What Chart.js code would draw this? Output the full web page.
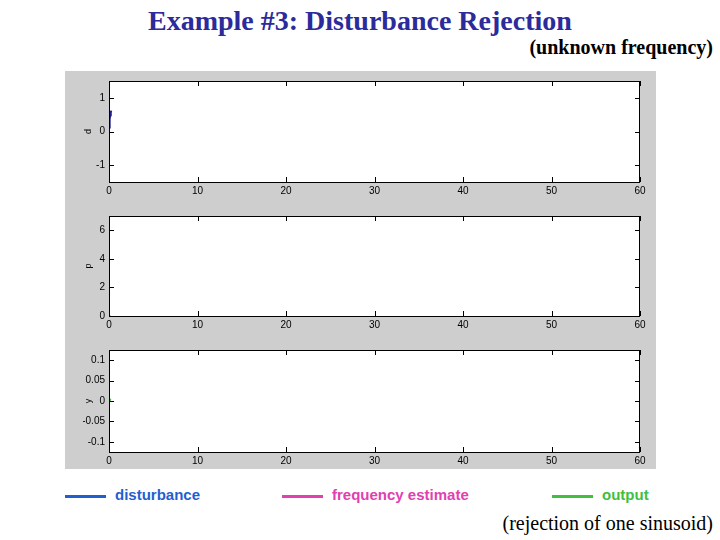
<!DOCTYPE html>
<html>
<head>
<meta charset="utf-8">
<script src="https://cdn.jsdelivr.net/npm/chart.js@4.4.1/dist/chart.umd.min.js"></script>
<style>
  body { margin: 0; width: 720px; height: 540px; background: #fff; position: relative; overflow: hidden; }
  .txt { position: absolute; white-space: nowrap; }
  #title { left: 148px; top: 5px; font: bold 28px "Liberation Serif", serif; color: #2b2b9b; }
  #sub { right: 7px; top: 36px; font: bold 20px "Liberation Serif", serif; color: #000; }
  #note { right: 7px; top: 512px; font: 20px "Liberation Serif", serif; color: #000; }
  #panel { position: absolute; left: 65px; top: 71px; width: 591px; height: 398px; background: #cecece; }
  canvas { position: absolute; left: 65px; }
  .leg { position: absolute; top: 486px; font: bold 15px "Liberation Sans", Arial, sans-serif; }
  .leg span { display: inline-block; width: 41px; height: 3px; vertical-align: middle; margin-right: 9px; }
</style>
</head>
<body>
<div id="title" class="txt">Example #3: Disturbance Rejection</div>
<div id="sub" class="txt">(unknown frequency)</div>
<div id="panel"></div>
<canvas id="c1" width="591" height="133" style="top:71px"></canvas>
<canvas id="c2" width="591" height="134" style="top:204px"></canvas>
<canvas id="c3" width="591" height="131" style="top:338px"></canvas>
<div class="leg" style="left:65px;color:#1f5fcf"><span style="background:#1f5fcf"></span>disturbance</div>
<div class="leg" style="left:282px;color:#e040b0"><span style="background:#e040b0"></span>frequency estimate</div>
<div class="leg" style="left:552px;color:#40bf40"><span style="background:#40bf40"></span>output</div>
<div id="note" class="txt">(rejection of one sinusoid)</div>
<script>
// time axis ticks (seconds)
const timeTicks = [0, 10, 20, 30, 40, 50, 60];

// disturbance d (only the very start of the run is drawn)
const dTime = [0, 0.05, 0.1, 0.15, 0.2, 0.25];
const dValues = [0.12, 0.25, 0.38, 0.48, 0.56, 0.62];

// frequency estimate p
const pTime = [0, 0.05, 0.1];
const pValues = [0, 0.03, 0.06];

// output y
const yTime = [0, 0.1, 0.2];
const yValues = [0, 0.003, 0.005];

const dTicks = [-1, 0, 1];
const pTicks = [0, 2, 4, 6];
const yTicks = [-0.1, -0.05, 0, 0.05, 0.1];

const tickFont = { family: "Liberation Sans, Arial, sans-serif", size: 10 };

// white plot box, black frame and inward ticks on every side
const boxPlugin = {
  id: "box",
  beforeDraw(chart) {
    const a = chart.chartArea;
    const ctx = chart.ctx;
    ctx.save();
    ctx.fillStyle = "#fff";
    ctx.fillRect(a.left, a.top, a.right - a.left, a.bottom - a.top);
    ctx.restore();
  },
  afterDraw(chart) {
    const a = chart.chartArea;
    const ctx = chart.ctx;
    const xs = chart.scales.x;
    const ys = chart.scales.y;
    ctx.save();
    ctx.strokeStyle = "#000";
    ctx.lineWidth = 1;
    ctx.strokeRect(a.left + 0.5, a.top + 0.5, a.right - a.left - 1, a.bottom - a.top);
    ctx.beginPath();
    xs.ticks.forEach((t) => {
      const px = Math.round(xs.getPixelForValue(t.value)) + 0.5;
      ctx.moveTo(px, a.bottom);
      ctx.lineTo(px, a.bottom - 5);
      ctx.moveTo(px, a.top);
      ctx.lineTo(px, a.top + 5);
    });
    ys.ticks.forEach((t) => {
      const py = Math.round(ys.getPixelForValue(t.value)) + 0.5;
      ctx.moveTo(a.left, py);
      ctx.lineTo(a.left + 5, py);
      ctx.moveTo(a.right, py);
      ctx.lineTo(a.right - 5, py);
    });
    ctx.stroke();
    ctx.restore();
  },
};

function pts(xs, ys) {
  return xs.map((x, i) => ({ x: x, y: ys[i] }));
}

function makeChart(id, label, times, values, color, yMin, yMax, yTickVals, padTop, xHeight) {
  return new Chart(document.getElementById(id), {
    type: "line",
    data: {
      datasets: [{
        label: label,
        data: pts(times, values),
        borderColor: color,
        borderWidth: 2,
        pointRadius: 0,
        tension: 0,
      }],
    },
    options: {
      responsive: false,
      animation: false,
      events: [],
      layout: { padding: { left: 18, right: 16, top: padTop, bottom: 0 } },
      plugins: { legend: { display: false }, tooltip: { enabled: false } },
      scales: {
        x: {
          type: "linear",
          min: 0,
          max: 60,
          afterBuildTicks: (s) => { s.ticks = timeTicks.map((v) => ({ value: v })); },
          afterFit: (s) => { s.height = xHeight; },
          grid: { drawOnChartArea: false, drawTicks: false },
          border: { display: false },
          ticks: { color: "#000", font: tickFont, padding: 3, maxRotation: 0, callback: (v) => String(v) },
        },
        y: {
          min: yMin,
          max: yMax,
          afterBuildTicks: (s) => { s.ticks = yTickVals.map((v) => ({ value: v })); },
          afterFit: (s) => { s.width = 26; },
          grid: { drawOnChartArea: false, drawTicks: false },
          border: { display: false },
          title: { display: true, text: label, color: "#000", font: { family: "Liberation Sans, Arial, sans-serif", size: 9 }, padding: 0 },
          ticks: { color: "#000", font: tickFont, padding: 4, callback: (v) => String(v) },
        },
      },
    },
    plugins: [boxPlugin],
  });
}

makeChart("c1", "d", dTime, dValues, "#20208a", -1.5, 1.5, dTicks, 9, 22);
makeChart("c2", "p", pTime, pValues, "#e060c0", 0, 7, pTicks, 12, 22);
makeChart("c3", "y", yTime, yValues, "#40bf40", -0.125, 0.125, yTicks, 12, 17);
</script>
</body>
</html>
